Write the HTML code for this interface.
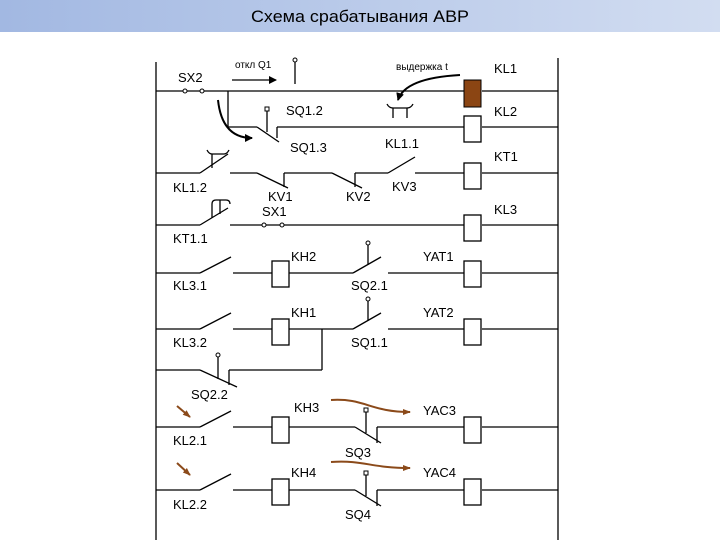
<!DOCTYPE html>
<html><head><meta charset="utf-8"><style>
body{margin:0;width:720px;height:540px;overflow:hidden;background:#fff}
svg{display:block}
text{font-family:"Liberation Sans","DejaVu Sans",sans-serif;font-size:13px;fill:#000}
</style></head><body>
<svg width="720" height="540" viewBox="0 0 720 540">
<defs>
<linearGradient id="g" x1="0" x2="1"><stop offset="0" stop-color="#a2b8e2"/><stop offset="1" stop-color="#d2ddf1"/></linearGradient>
<marker id="ab" markerWidth="8" markerHeight="8" refX="7" refY="4" orient="auto" markerUnits="userSpaceOnUse"><path d="M0,0 L8,4 L0,8z" fill="#000"/></marker>
<marker id="ao" markerWidth="8" markerHeight="8" refX="7" refY="4" orient="auto" markerUnits="userSpaceOnUse"><path d="M0,1 L8,4 L0,7z" fill="#8b4a1a"/></marker>
</defs>
<rect x="0" y="0" width="720" height="32" fill="url(#g)"/>
<text x="360" y="22" text-anchor="middle" style="font-size:17px" textLength="218" lengthAdjust="spacingAndGlyphs">Схема срабатывания АВР</text>

<g stroke="#000" stroke-width="1.3" fill="none">
<!-- rails -->
<line x1="156" y1="62" x2="156" y2="540"/>
<line x1="558" y1="58" x2="558" y2="540"/>
<!-- row1 -->
<line x1="156" y1="91" x2="464" y2="91"/><line x1="482" y1="91" x2="558" y2="91"/>
<line x1="295" y1="62" x2="295" y2="84"/>
<line x1="232" y1="80" x2="276" y2="80" marker-end="url(#ab)"/>
<path d="M218,100 Q222,138 252,138" stroke-width="2" marker-end="url(#ab)"/>
<path d="M460,75 Q405,78 398,100" stroke-width="2" marker-end="url(#ab)"/>
<!-- KL1.1 symbol -->
<path d="M387,104 q2,4 6,4 h14 q4,0 6,-4"/><line x1="393" y1="108" x2="393" y2="118"/><line x1="407" y1="108" x2="407" y2="118"/>
<!-- row2 -->
<line x1="228" y1="91" x2="228" y2="127"/><line x1="228" y1="127" x2="257" y2="127"/>
<line x1="257" y1="127" x2="279" y2="142"/><line x1="267" y1="110" x2="267" y2="132"/>
<line x1="277" y1="127" x2="277" y2="138"/><line x1="277" y1="127" x2="464" y2="127"/><line x1="482" y1="127" x2="558" y2="127"/>
<!-- row3 -->
<line x1="156" y1="173" x2="200" y2="173"/><line x1="200" y1="173" x2="228" y2="154"/>
<path d="M207,150 q2,4 5,4 h12 q3,0 5,-4"/><line x1="212" y1="154" x2="212" y2="168"/>
<line x1="230" y1="173" x2="257" y2="173"/>
<line x1="257" y1="173" x2="288" y2="188"/><line x1="284" y1="173" x2="284" y2="187"/>
<line x1="284" y1="173" x2="332" y2="173"/>
<line x1="332" y1="173" x2="362" y2="188"/><line x1="355" y1="173" x2="355" y2="187"/>
<line x1="355" y1="173" x2="388" y2="173"/><line x1="388" y1="173" x2="415" y2="157"/>
<line x1="415" y1="173" x2="464" y2="173"/><line x1="482" y1="173" x2="558" y2="173"/>
<!-- row4 -->
<line x1="156" y1="225" x2="200" y2="225"/><line x1="200" y1="225" x2="228" y2="208"/>
<path d="M212,218 v-14 q0,-4 4,-4 h10 q4,0 4,4"/><line x1="220" y1="200" x2="220" y2="214"/>
<line x1="230" y1="225" x2="464" y2="225"/><line x1="482" y1="225" x2="558" y2="225"/>
<!-- rows 5,6,8,9 left switches -->
<g>
<line x1="156" y1="273" x2="200" y2="273"/><line x1="200" y1="273" x2="231" y2="257"/><line x1="233" y1="273" x2="272" y2="273"/>
<line x1="289" y1="273" x2="353" y2="273"/><line x1="353" y1="273" x2="381" y2="257"/><line x1="368" y1="244" x2="368" y2="265"/>
<line x1="388" y1="273" x2="464" y2="273"/><line x1="482" y1="273" x2="558" y2="273"/>

<line x1="156" y1="329" x2="200" y2="329"/><line x1="200" y1="329" x2="231" y2="313"/><line x1="233" y1="329" x2="272" y2="329"/>
<line x1="289" y1="329" x2="353" y2="329"/><line x1="353" y1="329" x2="381" y2="313"/><line x1="368" y1="300" x2="368" y2="321"/>
<line x1="388" y1="329" x2="464" y2="329"/><line x1="482" y1="329" x2="558" y2="329"/>
<line x1="322" y1="329" x2="322" y2="370"/><line x1="322" y1="370" x2="229" y2="370"/><line x1="229" y1="370" x2="229" y2="385"/>
<line x1="156" y1="370" x2="200" y2="370"/><line x1="200" y1="370" x2="237" y2="387"/><line x1="218" y1="356" x2="218" y2="379"/>

<line x1="156" y1="427" x2="200" y2="427"/><line x1="200" y1="427" x2="231" y2="411"/><line x1="233" y1="427" x2="272" y2="427"/>
<line x1="289" y1="427" x2="355" y2="427"/><line x1="355" y1="427" x2="381" y2="443"/><line x1="366" y1="411" x2="366" y2="433"/>
<line x1="377" y1="427" x2="377" y2="443"/><line x1="377" y1="427" x2="464" y2="427"/><line x1="482" y1="427" x2="558" y2="427"/>

<line x1="156" y1="490" x2="200" y2="490"/><line x1="200" y1="490" x2="231" y2="474"/><line x1="233" y1="490" x2="272" y2="490"/>
<line x1="289" y1="490" x2="355" y2="490"/><line x1="355" y1="490" x2="381" y2="506"/><line x1="366" y1="474" x2="366" y2="496"/>
<line x1="377" y1="490" x2="377" y2="506"/><line x1="377" y1="490" x2="464" y2="490"/><line x1="482" y1="490" x2="558" y2="490"/>
</g>
<!-- coils -->
<rect x="464" y="116" width="17" height="26" fill="#fff"/>
<rect x="464" y="163" width="17" height="26" fill="#fff"/>
<rect x="464" y="215" width="17" height="26" fill="#fff"/>
<rect x="464" y="261" width="17" height="26" fill="#fff"/>
<rect x="464" y="319" width="17" height="26" fill="#fff"/>
<rect x="464" y="417" width="17" height="26" fill="#fff"/>
<rect x="464" y="479" width="17" height="26" fill="#fff"/>
<rect x="272" y="261" width="17" height="26" fill="#fff"/>
<rect x="272" y="319" width="17" height="26" fill="#fff"/>
<rect x="272" y="417" width="17" height="26" fill="#fff"/>
<rect x="272" y="479" width="17" height="26" fill="#fff"/>
</g>
<rect x="464" y="80" width="17" height="27" fill="#8b4513" stroke="#000" stroke-width="1"/>
<g fill="#fff" stroke="#000" stroke-width="1">
<circle cx="185" cy="91" r="2"/><circle cx="202" cy="91" r="2"/>
<circle cx="264" cy="225" r="2"/><circle cx="282" cy="225" r="2"/>
<circle cx="295" cy="60" r="2"/><rect x="265" y="107" width="4" height="4"/>
<circle cx="368" cy="243" r="2"/><circle cx="368" cy="299" r="2"/><circle cx="218" cy="355" r="2"/>
<rect x="364" y="408" width="4" height="4"/><rect x="364" y="471" width="4" height="4"/>
</g>
<g stroke="#8b4a1a" stroke-width="2" fill="none">
<path d="M331,400 C365,398 370,412 410,412" marker-end="url(#ao)"/>
<path d="M331,462 C365,460 370,468 410,468" marker-end="url(#ao)"/>
<line x1="177" y1="406" x2="190" y2="417" marker-end="url(#ao)"/>
<line x1="177" y1="463" x2="190" y2="475" marker-end="url(#ao)"/>
</g>
<text x="235" y="68" style="font-size:10px">откл Q1</text>
<text x="396" y="70" style="font-size:10px">выдержка t</text>
<text x="178" y="82">SX2</text>
<text x="494" y="73">KL1</text><text x="494" y="116">KL2</text><text x="494" y="161">KT1</text><text x="494" y="214">KL3</text>
<text x="286" y="115">SQ1.2</text><text x="290" y="152">SQ1.3</text><text x="385" y="148">KL1.1</text>
<text x="173" y="192">KL1.2</text><text x="268" y="201">KV1</text><text x="346" y="201">KV2</text><text x="392" y="191">KV3</text>
<text x="262" y="216">SX1</text><text x="173" y="243">KT1.1</text>
<text x="291" y="261">KH2</text><text x="423" y="261">YAT1</text><text x="173" y="290">KL3.1</text><text x="351" y="290">SQ2.1</text>
<text x="291" y="317">KH1</text><text x="423" y="317">YAT2</text><text x="173" y="347">KL3.2</text><text x="351" y="347">SQ1.1</text>
<text x="191" y="399">SQ2.2</text>
<text x="294" y="412">KH3</text><text x="423" y="415">YAC3</text><text x="173" y="445">KL2.1</text><text x="345" y="457">SQ3</text>
<text x="291" y="477">KH4</text><text x="423" y="477">YAC4</text><text x="173" y="509">KL2.2</text><text x="345" y="519">SQ4</text>
</svg>
</body></html>
